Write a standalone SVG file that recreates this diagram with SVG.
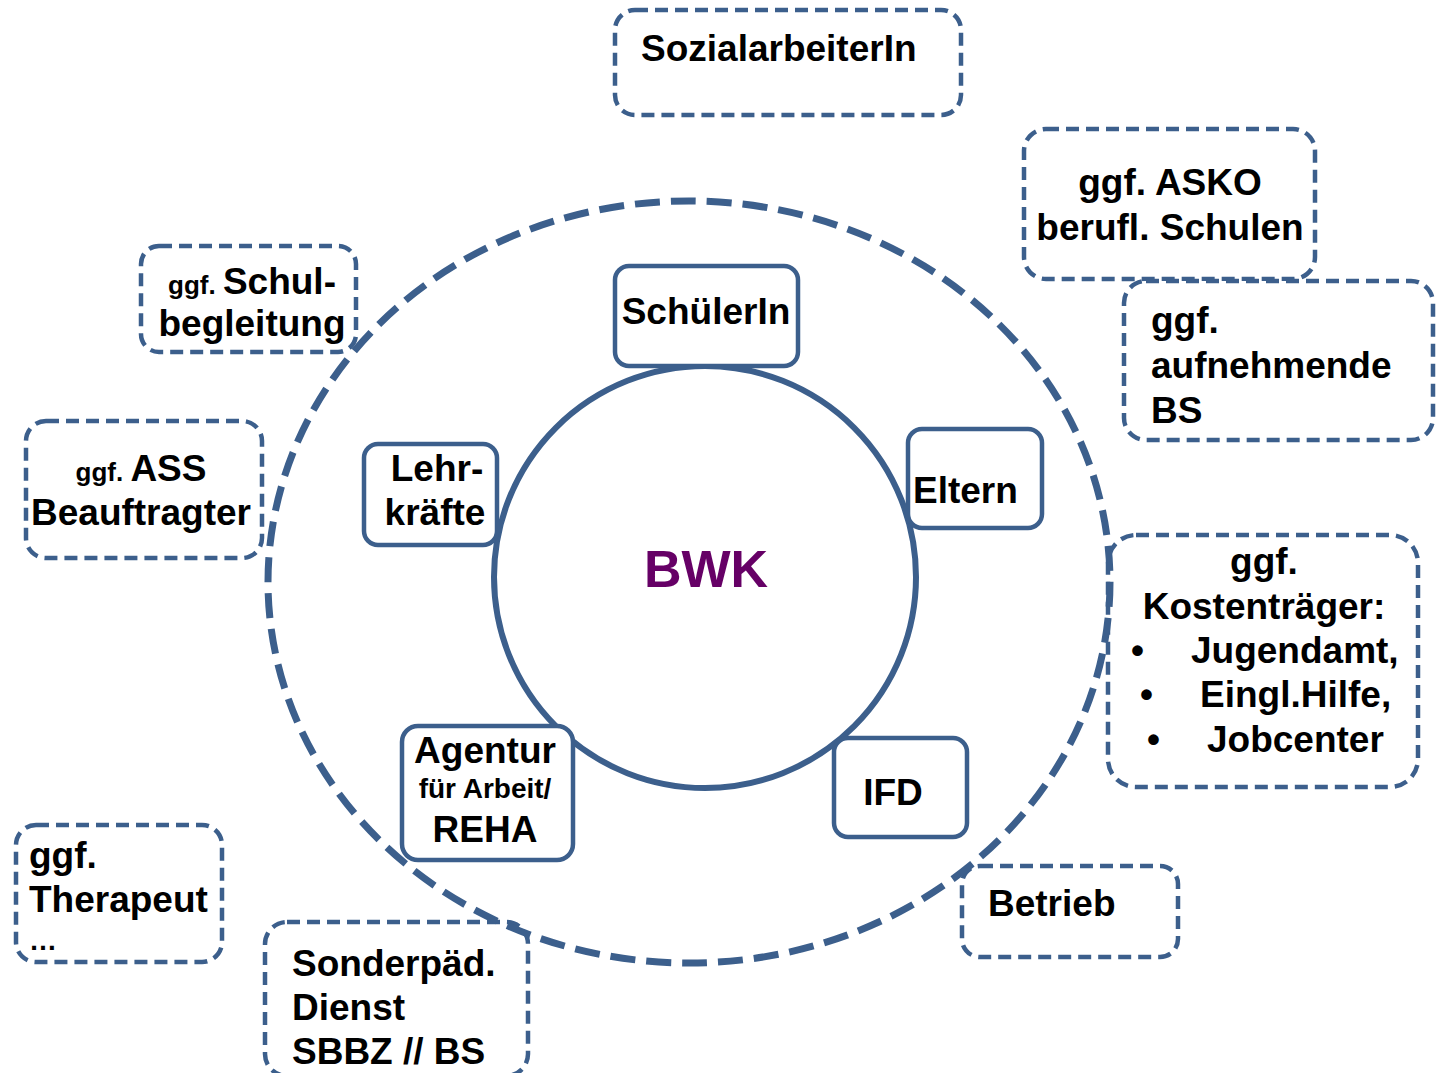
<svg xmlns="http://www.w3.org/2000/svg" width="1441" height="1073" viewBox="0 0 1441 1073">
<style>
text{font-family:"Liberation Sans",Arial,sans-serif;font-weight:bold;fill:#000;font-size:37px}
.s{font-size:26px}
.m{font-size:28px}
.dash{fill:#fff;stroke:#3c5f8c;stroke-width:4.5;stroke-dasharray:13 7}
.solid{fill:#fff;stroke:#3c5f8c;stroke-width:4.5}
.c{text-anchor:middle}
</style>
<rect width="1441" height="1073" fill="#fff"/>
<g id="outer-nodes">
<g id="n-sozial"><rect class="dash" x="615" y="10" width="346" height="105" rx="20"/><text x="641" y="61">SozialarbeiterIn</text></g>
<g id="n-asko"><rect class="dash" x="1024" y="129" width="291" height="150" rx="22"/><text class="c" x="1170" y="195">ggf. ASKO</text><text class="c" x="1170" y="240">berufl. Schulen</text></g>
<g id="n-aufn"><rect class="dash" x="1124" y="281" width="309" height="159" rx="22"/><text x="1151" y="333">ggf.</text><text x="1151" y="378">aufnehmende</text><text x="1151" y="423">BS</text></g>
<g id="n-schulbeg"><rect class="dash" x="141" y="246" width="215" height="106" rx="18"/><text class="c" x="252" y="294"><tspan class="s">ggf. </tspan>Schul-</text><text class="c" x="252" y="336">begleitung</text></g>
<g id="n-ass"><rect class="dash" x="26" y="421" width="236" height="137" rx="20"/><text class="c" x="141" y="481"><tspan class="s">ggf. </tspan>ASS</text><text class="c" x="141" y="525">Beauftragter</text></g>
<g id="n-kosten"><rect class="dash" x="1108" y="535" width="310" height="252" rx="28"/><text class="c" x="1264" y="574">ggf.</text><text class="c" x="1264" y="619">Kostenträger:</text><text x="1131" y="663">•</text><text x="1191" y="663">Jugendamt,</text><text x="1140" y="707">•</text><text x="1200" y="707">Eingl.Hilfe,</text><text x="1147" y="752">•</text><text x="1207" y="752">Jobcenter</text></g>
<g id="n-therapeut"><rect class="dash" x="16" y="825" width="206" height="137" rx="20"/><text x="29" y="868">ggf.</text><text x="29" y="912">Therapeut</text><text class="m" x="29" y="950">…</text></g>
<g id="n-sonder"><rect class="dash" x="265" y="922" width="263" height="154" rx="22"/><text x="292" y="976">Sonderpäd.</text><text x="292" y="1020">Dienst</text><text x="292" y="1064">SBBZ // BS</text></g>
<g id="n-betrieb"><rect class="dash" x="962" y="866" width="216" height="91" rx="18"/><text x="988" y="916">Betrieb</text></g>
</g>
<g id="connectors">
<ellipse cx="689" cy="582" rx="421" ry="381" fill="none" stroke="#3c5f8c" stroke-width="7" stroke-dasharray="25 11"/>
<circle cx="705" cy="577" r="211" fill="#fff" stroke="#3c5f8c" stroke-width="6"/>
</g>
<g id="n-bwk"><text class="c" x="706" y="587" style="font-size:52px;fill:#660066">BWK</text></g>
<g id="inner-nodes">
<g id="n-schueler"><rect class="solid" x="615" y="266" width="183" height="100" rx="14"/><text class="c" x="706" y="324">SchülerIn</text></g>
<g id="n-lehr"><rect class="solid" x="364" y="444" width="133" height="101" rx="14"/><text class="c" x="437" y="481">Lehr-</text><text class="c" x="435" y="525">kräfte</text></g>
<g id="n-eltern"><rect class="solid" x="908" y="429" width="134" height="99" rx="14"/><text x="913" y="503">Eltern</text></g>
<g id="n-agentur"><rect class="solid" x="402" y="726" width="171" height="134" rx="16"/><text class="c" x="485" y="763">Agentur</text><text class="c m" x="485" y="798">für Arbeit/</text><text class="c" x="485" y="842">REHA</text></g>
<g id="n-ifd"><rect class="solid" x="834" y="738" width="133" height="99" rx="14"/><text class="c" x="893" y="805">IFD</text></g>
</g>
</svg>
